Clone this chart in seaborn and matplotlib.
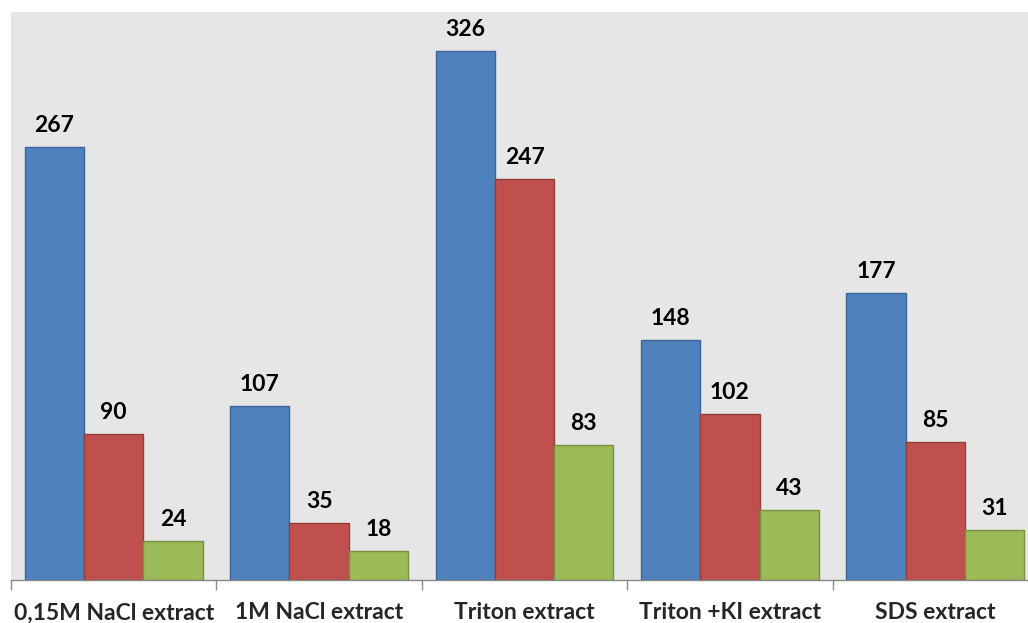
import matplotlib
matplotlib.use("Agg")
import matplotlib.pyplot as plt
import seaborn as sns
import pandas as pd
from matplotlib.ticker import FixedLocator

categories = ["0,15M NaCl extract", "1M NaCl extract", "Triton extract",
              "Triton +KI extract", "SDS extract"]
series_names = ["A", "B", "C"]
series_a = [267, 107, 326, 148, 177]
series_b = [90, 35, 247, 102, 85]
series_c = [24, 18, 83, 43, 31]

fill_colors = ["#4F81BD", "#C0504D", "#9BBB59"]
edge_colors = ["#3A6595", "#943C3A", "#76913F"]

rows = []
for name, vals in zip(series_names, [series_a, series_b, series_c]):
    for cat, v in zip(categories, vals):
        rows.append({"category": cat, "series": name, "value": v})
df = pd.DataFrame(rows)

sns.set_theme(style="white")
plt.rcParams["font.family"] = ["Lato", "DejaVu Sans"]

fig = plt.figure(figsize=(10.28, 6.23), dpi=100)
fig.patch.set_facecolor("white")
ax = fig.add_axes([11 / 1028, 1 - 580 / 623, 1027 / 1028, 568 / 623])
ax.set_facecolor("#E6E6E6")

sns.barplot(data=df, x="category", y="value", hue="series", order=categories,
            hue_order=series_names, palette=fill_colors, width=0.866,
            dodge=True, ax=ax, legend=False, saturation=1)

for cont, ec in zip(ax.containers, edge_colors):
    for patch in cont:
        patch.set_edgecolor(ec)
        patch.set_linewidth(1.0)
    ax.bar_label(cont, fmt="%d", padding=8, fontsize=16.5, fontweight="bold",
                 color="black")

ax.set_ylim(0, 350)
ax.set_xlim(-0.5, len(categories) - 0.5)
ax.set_yticks([])
ax.set_xlabel("")
ax.set_ylabel("")
for side in ["top", "right", "left"]:
    ax.spines[side].set_visible(False)
ax.spines["bottom"].set_color("#888888")
ax.spines["bottom"].set_linewidth(1.0)

ax.xaxis.set_minor_locator(FixedLocator([i - 0.5 for i in range(len(categories) + 1)]))
ax.tick_params(axis="x", which="major", length=0, pad=16, labelsize=16.5)
ax.tick_params(axis="x", which="minor", length=7, width=1, color="#888888",
               direction="out", bottom=True)
for lbl in ax.get_xticklabels():
    lbl.set_fontweight("bold")

fig.savefig("out.png", dpi=100)
